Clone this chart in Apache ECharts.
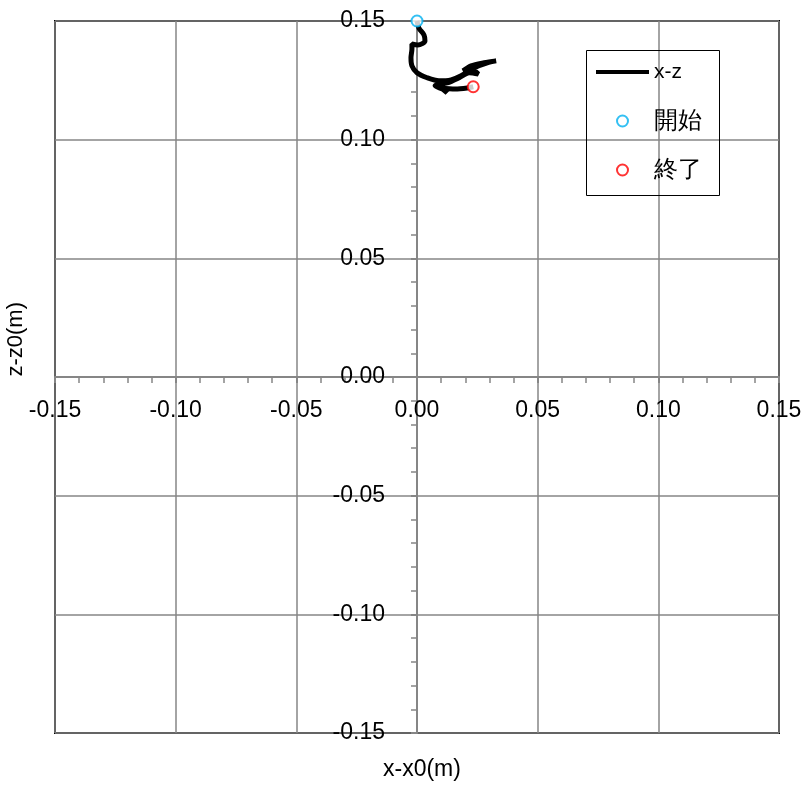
<!DOCTYPE html>
<html>
<head>
<meta charset="utf-8">
<script src="https://cdn.jsdelivr.net/npm/echarts@6/dist/echarts.min.js"></script>
<style>html,body{margin:0;padding:0;background:#fff;}#c{width:803px;height:785px;}</style>
</head>
<body>
<div id="c"></div>
<script>
// x-x0 (m) and z-z0 (m) along the trajectory
const pathX = [0.000, 0.0008, 0.0029, 0.0033, 0.0004, -0.0021, -0.0021, -0.0025, -0.0021, 0.0000, 0.0042, 0.0091, 0.0141, 0.0183, 0.0237, 0.0291, 0.0328, 0.0278, 0.0224, 0.0191, 0.0224, 0.0254, 0.0216, 0.0175, 0.0125, 0.0075, 0.0112, 0.0125, 0.0100, 0.0158, 0.0208, 0.0233];
const pathZ = [0.150, 0.147, 0.1441, 0.1416, 0.1399, 0.1403, 0.1382, 0.1345, 0.1311, 0.1282, 0.1261, 0.1248, 0.1252, 0.1269, 0.1303, 0.1324, 0.1332, 0.1324, 0.1311, 0.1290, 0.1298, 0.1277, 0.1282, 0.1261, 0.1239, 0.1227, 0.1210, 0.1197, 0.1218, 0.1214, 0.1218, 0.1223];
const startPoint = [0.000, 0.150];
const endPoint = [0.0233, 0.1223];
const seriesNames = ['x-z', '開始', '終了'];
const xTitle = 'x-x0(m)';
const yTitle = 'z-z0(m)';

const FONT = 'Liberation Sans';
const W = 803, H = 785;
const G = { left: 55, right: 24, top: 21, bottom: 52 };
const chart = echarts.init(document.getElementById('c'));
const lineData = pathX.map((x, i) => [x, pathZ[i]]);

function axisCommon() {
  return {
    type: 'value', min: -0.15, max: 0.15, interval: 0.05,
    axisLine: { onZero: false, lineStyle: { color: '#868686', width: 2 } },
    axisTick: { show: true, length: 6, lineStyle: { color: '#868686', width: 2 } },
    minorTick: { show: true, splitNumber: 5, length: 6, lineStyle: { color: '#868686', width: 1.5 } },
    splitLine: { show: true, lineStyle: { color: '#868686', width: 1.5 } },
    axisLabel: { color: '#000', fontFamily: FONT, fontSize: 23, formatter: v => v.toFixed(2), showMinLabel: true, showMaxLabel: true, hideOverlap: false }
  };
}
// axes cross at zero (mid of symmetric ranges): shift them from grid edges to the centre
const xAxis = axisCommon();
xAxis.axisLabel.margin = 22;
xAxis.offset = -(H - G.top - G.bottom) / 2;
const yAxis = axisCommon();
yAxis.axisLabel.margin = 32;
yAxis.offset = -(W - G.left - G.right) / 2;

chart.setOption({
  backgroundColor: '#fff',
  animation: false,
  grid: Object.assign({ containLabel: false, outerBoundsMode: 'none', show: true, borderColor: '#000', borderWidth: 2, backgroundColor: 'transparent' }, G),
  xAxis: xAxis,
  yAxis: yAxis,
  legend: {
    orient: 'vertical', left: 596, top: 59, padding: 0, itemWidth: 53, itemHeight: 11, itemGap: 23, itemStyle: { borderWidth: 2 },
    textStyle: { fontFamily: FONT, fontSize: 24, lineHeight: 26, color: '#000',
      rich: { a: { fontFamily: FONT, fontSize: 21, lineHeight: 26 }, b: { fontFamily: FONT, fontSize: 24, lineHeight: 26 } } },
    formatter: name => name === 'x-z' ? '{a|' + name + '}' : '{b|' + name + '}',
    data: [
      { name: seriesNames[0], icon: 'path://M0,0 L53,0 L53,4 L0,4 Z' },
      { name: seriesNames[1] },
      { name: seriesNames[2] }
    ]
  },
  graphic: [
    { type: 'rect', left: 584, top: 48, shape: { width: 133, height: 145 }, style: { fill: 'none', stroke: '#000', lineWidth: 1 }, z: 10 },
    { type: 'text', left: 383, top: 758, style: { text: xTitle, fontFamily: FONT, fontSize: 23, fill: '#000' } },
    { type: 'text', left: 5, top: 302, rotation: Math.PI / 2, style: { text: yTitle, fontFamily: FONT, fontSize: 22, fill: '#000' } }
  ],
  series: [
    { name: seriesNames[0], type: 'line', data: lineData, symbol: 'none', smooth: 0.3, lineStyle: { color: '#000', width: 5 }, itemStyle: { color: '#000' }, z: 3 },
    { name: seriesNames[1], type: 'scatter', data: [startPoint], symbol: 'circle', symbolSize: 11, itemStyle: { color: '#fff', borderColor: '#00b0f0', borderWidth: 2 }, z: 5 },
    { name: seriesNames[2], type: 'scatter', data: [endPoint], symbol: 'circle', symbolSize: 11, itemStyle: { color: '#fff', borderColor: '#ff0000', borderWidth: 2 }, z: 5 }
  ]
});
</script>
</body>
</html>
